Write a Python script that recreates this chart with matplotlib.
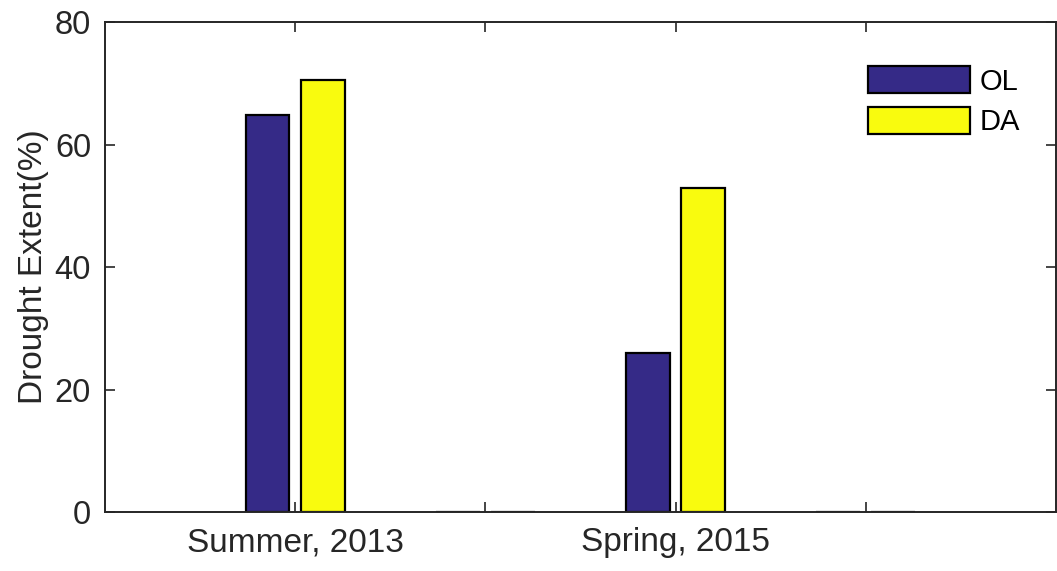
import matplotlib.pyplot as plt
import numpy as np

plt.rcParams['font.family'] = ['Liberation Sans', 'DejaVu Sans']

# seasons along x (empty slots keep the MATLAB-style spacing)
seasons = ['Summer, 2013', '', 'Spring, 2015', '']
ol_extent = [64.8, 0, 25.9, 0]
da_extent = [70.6, 0, 52.9, 0]
series_names = ['OL', 'DA']

fig = plt.figure(figsize=(10.57, 5.71), dpi=100)
ax = fig.add_axes([0.0993, 0.1033, 0.8997, 0.858])

x = np.arange(1, len(seasons) + 1)
width = 0.23
offset = 0.145
ax.bar(x - offset, ol_extent, width, color='#352A87', edgecolor='black',
       linewidth=1.6, label=series_names[0])
ax.bar(x + offset, da_extent, width, color='#F9FB0E', edgecolor='black',
       linewidth=1.6, label=series_names[1])

ax.set_xlim(0, 5)
ax.set_ylim(0, 80)
ax.set_xticks(x)
ax.set_xticklabels(seasons)
ax.set_yticks([0, 20, 40, 60, 80])
ax.set_ylabel('Drought Extent(%)', fontsize=24, color='#262626', labelpad=4)

axis_col = '#262626'
for s in ax.spines.values():
    s.set_color(axis_col)
    s.set_linewidth(1.4)
ax.tick_params(direction='in', length=7, width=1.2, colors=axis_col,
               labelsize=23.5, top=True, right=True, pad=10)
ax.tick_params(axis='x', labelsize=24, pad=11)
for lbl in ax.get_xticklabels() + ax.get_yticklabels():
    lbl.set_color(axis_col)

leg = ax.legend(loc='upper left', bbox_to_anchor=(0.802, 0.91), frameon=False,
                fontsize=21, handlelength=3.5, handleheight=1.05,
                labelspacing=0.38, handletextpad=0.35, borderpad=0,
                borderaxespad=0)

fig.savefig('out.png', dpi=100)
